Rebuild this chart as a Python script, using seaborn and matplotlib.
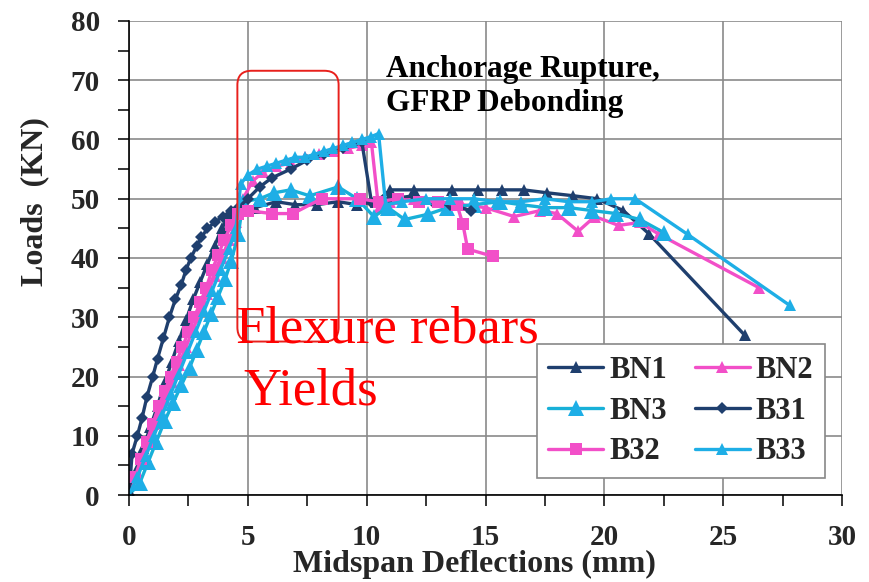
import matplotlib
matplotlib.use("Agg")
import matplotlib.pyplot as plt
import seaborn as sns
import pandas as pd
from matplotlib.patches import FancyBboxPatch
from matplotlib.ticker import MultipleLocator

# ---------------- data ----------------
series_names = ["BN1", "BN2", "BN3", "B31", "B32", "B33"]

bn1_x = [0, 0.3, 0.6, 0.9, 1.2, 1.5, 1.8, 2.1, 2.4, 2.7, 3.0, 3.3, 3.6, 3.9, 4.2, 4.5,
         5.3, 6.2, 7.0, 7.9, 8.8, 9.6, 10.4, 11.0, 12.0, 13.6, 14.7, 15.7, 16.6, 17.6,
         18.7, 19.7, 20.8, 21.9, 25.9]
bn1_y = [0, 4, 8, 11.5, 15, 19, 22.5, 26, 29.5, 33, 36, 39, 42, 45, 47, 48,
         48.5, 49.5, 49, 49, 49.5, 49, 49.5, 51.5, 51.5, 51.5, 51.5, 51.5, 51.5, 51,
         50.5, 50, 48, 44, 27]

bn2_x = [0, 0.3, 0.6, 0.9, 1.2, 1.5, 1.8, 2.1, 2.4, 2.7, 3.0, 3.3, 3.6, 3.9, 4.2, 4.5,
         4.8, 5.2, 5.65, 6.2, 6.8, 7.4, 8.0, 8.6, 9.2, 9.8, 10.2, 10.5, 11.0, 12.0, 13.0,
         14.0, 15.0, 16.2, 17.3, 18.0, 18.9, 19.6, 20.6, 21.5, 22.3, 26.5]
bn2_y = [0, 3, 6.5, 10, 13, 16, 19, 22, 25, 28, 31, 34, 37, 40, 43, 46,
         50, 53, 54.5, 55.5, 56, 57, 57.5, 58, 58.5, 59, 59.5, 48.5, 49.5, 50, 49.5,
         49, 48.5, 47, 48, 47.5, 44.5, 47, 45.5, 46, 44, 35]

bn3_x = [0, 0.45, 0.8, 1.15, 1.5, 1.85, 2.2, 2.55, 2.85, 3.15, 3.45, 3.75, 4.05, 4.3,
         4.6, 4.8, 5.5, 6.1, 6.8, 7.6, 8.8, 9.6, 10.3, 10.9, 11.6, 12.6, 13.4, 14.5,
         15.6, 16.5, 17.5, 18.5, 19.5, 20.5, 21.5, 22.5]
bn3_y = [0, 2, 5.5, 9, 12.5, 15.5, 18.5, 21.5, 24.5, 27.5, 30.5, 33.5, 36.5, 39.5,
         44, 49.5, 50, 51, 51.5, 50.5, 52, 50, 47, 48.5, 46.5, 47.4, 48.5, 49,
         49.5, 49, 48.5, 48.5, 48, 47.5, 46.5, 44.3]

b31_x = [0, 0.13, 0.35, 0.55, 0.75, 1.0, 1.2, 1.45, 1.7, 1.95, 2.2, 2.4, 2.6, 2.85,
         3.05, 3.3, 3.6, 3.95, 4.3, 4.6, 5.0, 5.5, 6.0, 6.8, 7.5, 8.2, 9.0, 9.8, 10.2,
         11.0, 12.0, 12.8, 13.5, 14.4]
b31_y = [0, 7, 10, 13, 16.5, 20, 23, 26.5, 30, 33, 35.5, 38, 40, 42,
         43.5, 45, 46, 47, 48, 48.5, 50, 52, 53.5, 55, 56.5, 57.5, 58.5, 59.5, 49.5,
         50, 50.5, 49.5, 49, 48]

b32_x = [0, 0.25, 0.5, 0.75, 1.0, 1.25, 1.5, 1.75, 2.0, 2.25, 2.5, 2.75, 3.0, 3.25,
         3.5, 3.75, 4.0, 4.3, 4.6, 5.0, 6.0, 6.9, 8.1, 9.7, 10.5, 11.3, 12.2, 13.0,
         13.8, 14.05, 14.25, 15.3]
b32_y = [3, 3, 6, 9, 12, 15, 17.5, 20, 22.5, 25, 27.5, 30, 32.5, 35,
         38, 40.5, 43, 45.5, 47.5, 48, 47.5, 47.5, 50, 50, 49.5, 50, 49.5, 49.5,
         49, 45.7, 41.5, 40.3]

b33_x = [0, 0.35, 0.7, 1.05, 1.4, 1.75, 2.1, 2.45, 2.8, 3.15, 3.5, 3.85, 4.2, 4.5,
         4.7, 5.0, 5.4, 5.8, 6.2, 6.6, 7.0, 7.4, 7.8, 8.2, 8.6, 9.0, 9.4, 9.8, 10.2,
         10.5, 10.8, 11.5, 12.5, 13.5, 14.5, 15.5, 16.5, 17.5, 18.5, 19.5, 20.3, 21.3,
         23.5, 27.8]
b33_y = [0, 3, 6.5, 10, 13.5, 17, 20.5, 24, 27.5, 31, 34.5, 38, 41.5, 45,
         52.5, 54, 55, 55.5, 56, 56.5, 57, 57, 57.5, 58, 58.5, 59, 59.5, 60, 60.5,
         61, 49, 49.5, 50, 50, 50, 49.5, 49.5, 50, 49.5, 49.5, 50, 50,
         44, 32]

x_ticks = [0, 5, 10, 15, 20, 25, 30]
y_ticks = [0, 10, 20, 30, 40, 50, 60, 70, 80]

# ---------------- styling ----------------
sns.set_style("white")
plt.rcParams["font.family"] = ["Liberation Serif", "DejaVu Serif"]
plt.rcParams["font.weight"] = "bold"

NAVY = "#1f3f6e"
PINK = "#f24fc8"
LBLUE = "#1eaee6"
TEAL = "#18b0d8"

styles = {
    "BN1": dict(x=bn1_x, y=bn1_y, color=NAVY, marker="^", ms=8),
    "BN2": dict(x=bn2_x, y=bn2_y, color=PINK, marker="^", ms=8),
    "BN3": dict(x=bn3_x, y=bn3_y, color=TEAL, marker="^", ms=12, mc=LBLUE),
    "B31": dict(x=b31_x, y=b31_y, color=NAVY, marker="D", ms=6),
    "B32": dict(x=b32_x, y=b32_y, color=PINK, marker="s", ms=9),
    "B33": dict(x=b33_x, y=b33_y, color=LBLUE, marker="^", ms=8),
}

fig = plt.figure(figsize=(8.69, 5.82), dpi=100)
ax = fig.add_axes([129 / 869, 1 - 495 / 582, (842 - 129) / 869, (495 - 21) / 582])

for name in series_names:
    s = styles[name]
    df = pd.DataFrame({"x": s["x"], "y": s["y"]})
    sns.lineplot(data=df, x="x", y="y", ax=ax, sort=False, estimator=None,
                 color=s["color"], linewidth=2.4, marker=s["marker"],
                 markersize=s["ms"], markeredgewidth=0,
                 markerfacecolor=s.get("mc", s["color"]), label=name)

ax.set_xlim(0, 30)
ax.set_ylim(0, 80)
ax.set_xticks(x_ticks)
ax.set_yticks(y_ticks)
ax.xaxis.set_minor_locator(MultipleLocator(2.5))
ax.yaxis.set_minor_locator(MultipleLocator(5))
ax.grid(True, which="major", color="#8a8a8a", linewidth=1.2)
ax.set_axisbelow(True)
for sp in ["top", "right"]:
    ax.spines[sp].set_visible(False)
for sp in ["left", "bottom"]:
    ax.spines[sp].set_color("black")
    ax.spines[sp].set_linewidth(1.2)
ax.tick_params(which="both", direction="out", length=8, width=1.1, color="black",
               bottom=True, left=True, top=False, right=False)
ax.tick_params(which="major", labelsize=21, pad=13)
for lab in ax.get_xticklabels() + ax.get_yticklabels():
    lab.set_fontweight("bold")

ax.set_xlabel("Midspan Deflections (mm)", fontsize=23, fontweight="bold")
ax.set_ylabel("Loads  (KN)", fontsize=23, fontweight="bold")
ax.xaxis.set_label_coords(0.485, -0.115)
ax.yaxis.set_label_coords(-0.112, 0.62)

# red rounded highlight box
box = FancyBboxPatch((4.56, 25.9), 8.82 - 4.56, 71.6 - 25.9,
                     boxstyle="round,pad=0,rounding_size=0.6",
                     mutation_aspect=4.0, fill=False, edgecolor="#e8201c",
                     linewidth=1.4, zorder=5)
ax.add_patch(box)

ax.text(4.5, 25.7, "Flexure rebars", color="red", fontsize=38,
        fontweight="normal", va="baseline", ha="left", zorder=6)
ax.text(4.8, 15.3, "Yields", color="red", fontsize=38,
        fontweight="normal", va="baseline", ha="left", zorder=6)

ax.text(10.8, 70.6, "Anchorage Rupture,", color="black", fontsize=22.5,
        fontweight="bold", va="baseline", ha="left", zorder=6)
ax.text(10.8, 64.8, "GFRP Debonding", color="black", fontsize=22.5,
        fontweight="bold", va="baseline", ha="left", zorder=6)

# legend (column-major order: BN1, BN3, B32 | BN2, B31, B33)
h, l = ax.get_legend_handles_labels()
hd = dict(zip(l, h))
order = ["BN1", "BN3", "B32", "BN2", "B31", "B33"]
leg = ax.legend([hd[k] for k in order], order, ncol=2, loc="lower right",
                bbox_to_anchor=(0.976, 0.036), borderaxespad=0,
                prop={"family": "Liberation Serif", "weight": "bold", "size": 22},
                frameon=True, fancybox=False, framealpha=1, edgecolor="#888888",
                handlelength=1.8, handletextpad=0.2, columnspacing=0.9,
                labelspacing=0.38, borderpad=0.38)
leg.get_frame().set_linewidth(1.2)

fig.savefig("out.png", dpi=100)
